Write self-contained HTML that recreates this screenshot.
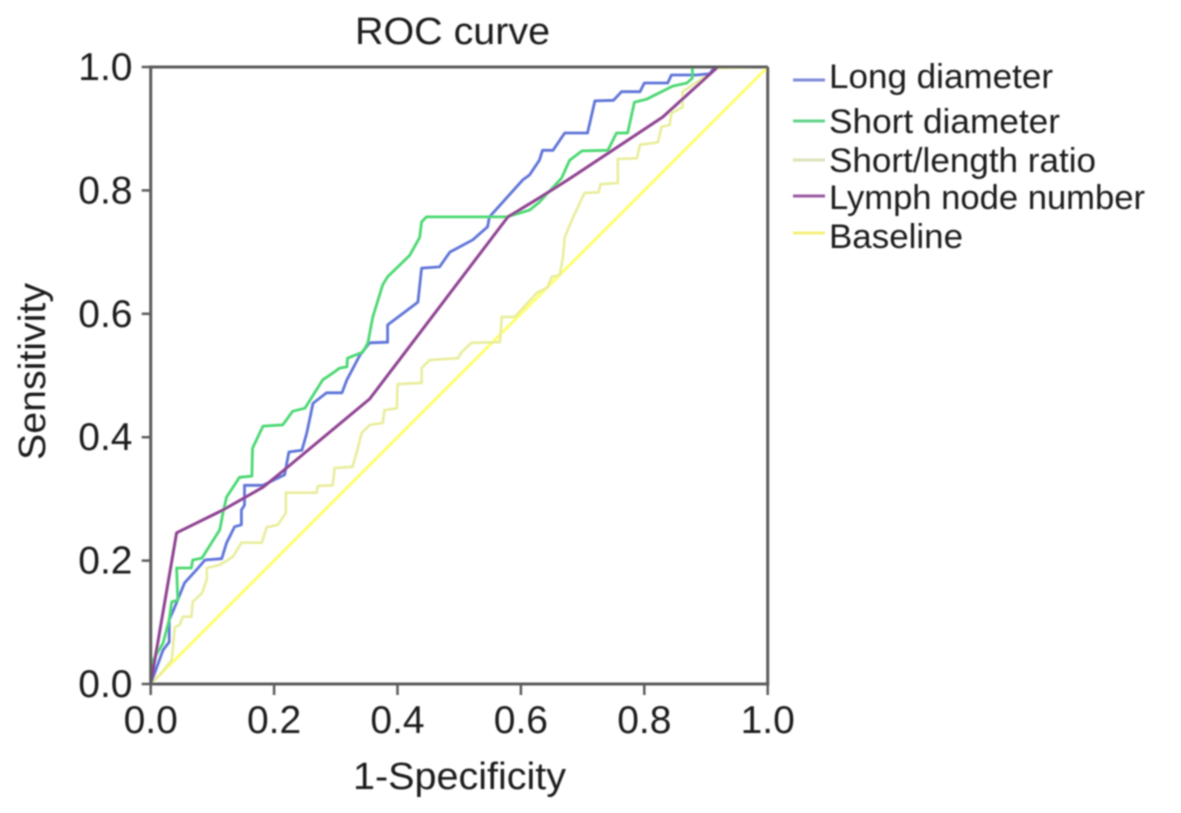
<!DOCTYPE html>
<html>
<head>
<meta charset="utf-8">
<title>ROC curve</title>
<style>
html,body{margin:0;padding:0;background:#fff;width:1181px;height:813px;overflow:hidden}
svg{display:block}
text{font-family:"Liberation Sans",sans-serif;fill:#1c1c1c}
</style>
</head>
<body>
<svg id="chart" xmlns="http://www.w3.org/2000/svg" width="1181" height="813" viewBox="0 0 1181 813">
<defs><filter id="soft" x="-5%" y="-5%" width="110%" height="110%"><feGaussianBlur stdDeviation="0.7"/></filter></defs>
<g id="root" filter="url(#soft)">
<text x="355" y="44" font-size="38" textLength="195" lengthAdjust="spacingAndGlyphs">ROC curve</text>
<text x="353" y="789" font-size="38" textLength="213" lengthAdjust="spacingAndGlyphs">1-Specificity</text>
<text transform="translate(45,460) rotate(-90)" font-size="38" textLength="177" lengthAdjust="spacingAndGlyphs">Sensitivity</text>
<g id="series-layer"></g>
<g id="axis-layer"></g>
<g id="legend">
<g><line x1="793" x2="825" y1="80" y2="80" stroke="#7f8ad8" stroke-width="3"/><text x="829" y="88" font-size="34" textLength="224" lengthAdjust="spacingAndGlyphs">Long diameter</text></g>
<g><line x1="793" x2="825" y1="121" y2="121" stroke="#62d488" stroke-width="3"/><text x="829" y="133" font-size="34" textLength="231" lengthAdjust="spacingAndGlyphs">Short diameter</text></g>
<g><line x1="793" x2="825" y1="160" y2="160" stroke="#dfe3b8" stroke-width="3"/><text x="829" y="172" font-size="34" textLength="267" lengthAdjust="spacingAndGlyphs">Short/length ratio</text></g>
<g><line x1="793" x2="825" y1="196" y2="196" stroke="#9a5aa0" stroke-width="3"/><text x="829" y="209" font-size="34" textLength="316" lengthAdjust="spacingAndGlyphs">Lymph node number</text></g>
<g><line x1="793" x2="825" y1="233" y2="233" stroke="#f4f07a" stroke-width="3"/><text x="829" y="248" font-size="34" textLength="134" lengthAdjust="spacingAndGlyphs">Baseline</text></g>
</g>
</g>
</svg>
<script>
var tickLabels = ["0.0","0.2","0.4","0.6","0.8","1.0"];
var tickValues = [0,0.2,0.4,0.6,0.8,1];

var longFpr = [0,.02,.03,.03,.039,.055,.074,.088,.115,.123,.136,.147,.147,.152,.152,.182,.217,.224,.245,.253,.263,.285,.31,.318,.339,.355,.384,.384,.433,.439,.468,.485,.522,.546,.549,.603,.614,.63,.635,.652,.671,.708,.72,.75,.763,.793,.80,.838,.844,.885,.906,.914,1];
var longTpr = [0,.055,.068,.104,.125,.164,.185,.201,.203,.229,.255,.258,.282,.29,.322,.322,.339,.376,.379,.407,.455,.472,.472,.493,.533,.553,.554,.582,.619,.674,.676,.70,.72,.741,.757,.817,.825,.849,.865,.865,.893,.893,.945,.946,.96,.96,.974,.974,.987,.987,.989,1,1];

var shortFpr = [0,.004,.02,.03,.034,.044,.042,.066,.068,.083,.112,.117,.123,.144,.164,.165,.182,.214,.23,.25,.279,.298,.306,.318,.319,.344,.352,.36,.376,.384,.42,.436,.439,.447,.577,.614,.63,.666,.679,.699,.741,.755,.773,.784,.804,.846,.869,.878,.878,1];
var shortTpr = [0,.039,.066,.104,.133,.136,.188,.188,.201,.204,.25,.277,.303,.335,.337,.382,.418,.42,.442,.447,.493,.506,.512,.514,.528,.538,.553,.595,.647,.66,.695,.724,.749,.757,.757,.768,.781,.82,.849,.864,.865,.893,.893,.943,.948,.969,.974,.982,1,1];

var ratioFpr = [0,.015,.034,.039,.047,.052,.066,.068,.083,.091,.091,.112,.133,.147,.18,.188,.206,.219,.219,.269,.271,.295,.298,.327,.334,.342,.355,.376,.379,.399,.40,.439,.439,.452,.498,.504,.52,.566,.569,.59,.626,.643,.65,.663,.668,.671,.684,.703,.726,.729,.757,.757,.788,.793,.822,.828,.841,.844,.862,.862,.895,.917,1];
var ratioTpr = [0,.015,.039,.092,.096,.109,.109,.133,.147,.169,.188,.193,.206,.229,.229,.254,.258,.277,.31,.31,.321,.322,.35,.352,.376,.407,.42,.423,.444,.447,.486,.488,.512,.525,.528,.538,.553,.554,.595,.595,.634,.643,.66,.663,.692,.724,.755,.796,.797,.81,.812,.851,.852,.874,.878,.903,.906,.925,.935,.96,.982,.998,1];

var lymphFpr = [0,.042,.117,.182,.22,.355,.579,.63,.676,.83,.919,1];
var lymphTpr = [0,.245,.282,.319,.35,.462,.757,.788,.817,.919,1,1];

var baseFpr = [0,1];
var baseTpr = [0,1];

var NS = "http://www.w3.org/2000/svg";
function xScale(v){ return 150.7 + v * 617; }
function yScale(v){ return 684 - v * 617; }

function drawSeries(name, xs, ys, color, width){
  var p = document.createElementNS(NS, "polyline");
  var pts = xs.map(function(x, i){ return xScale(x).toFixed(1) + "," + yScale(ys[i]).toFixed(1); }).join(" ");
  p.setAttribute("points", pts);
  p.setAttribute("fill", "none");
  p.setAttribute("stroke", color);
  p.setAttribute("stroke-width", width);
  p.setAttribute("stroke-linejoin", "round");
  
  
  document.getElementById("series-layer").appendChild(p);
}
drawSeries("series-baseline", baseFpr, baseTpr, "#ffff70", 3);
drawSeries("series-short-length-ratio", ratioFpr, ratioTpr, "#e9ed9c", 2.6);
drawSeries("series-long-diameter", longFpr, longTpr, "#5f74d8", 2.8);
drawSeries("series-short-diameter", shortFpr, shortTpr, "#4cd872", 2.8);
drawSeries("series-lymph-node-number", lymphFpr, lymphTpr, "#8f4392", 3);

var axisLayer = document.getElementById("axis-layer");
function axisLine(x1, y1, x2, y2, name, w){
  var l = document.createElementNS(NS, "line");
  l.setAttribute("x1", x1);
  l.setAttribute("y1", y1);
  l.setAttribute("x2", x2);
  l.setAttribute("y2", y2);
  l.setAttribute("stroke", "#5c5c5c");
  l.setAttribute("stroke-width", w);
  
  
  axisLayer.appendChild(l);
}
function axisText(x, y, s, name, anchor){
  var t = document.createElementNS(NS, "text");
  t.setAttribute("x", x);
  t.setAttribute("y", y);
  t.setAttribute("font-size", "39");
  t.setAttribute("text-anchor", anchor);
  t.textContent = s;
  
  
  axisLayer.appendChild(t);
}
axisLine(xScale(0), yScale(0), xScale(0), yScale(1) - 1.5, "y-axis-line", 3);
axisLine(xScale(0), yScale(0), xScale(1) + 1.5, yScale(0), "x-axis-line", 3);
axisLine(xScale(0), yScale(1), xScale(1), yScale(1), "plot-top-border", 3);
axisLine(xScale(1), yScale(0), xScale(1), yScale(1), "plot-right-border", 3);
tickValues.forEach(function(v, i){
  axisLine(xScale(v), yScale(0), xScale(v), yScale(0) + 11, "x-tick", 2.5);
  axisLine(xScale(0) - 9, yScale(v), xScale(0), yScale(v), "y-tick", 2.5);
  axisText(xScale(v), 733, tickLabels[i], "x-tick-label", "middle");
  axisText(132.5, yScale(v) + 13, tickLabels[i], "y-tick-label", "end");
});
</script>
</body>
</html>
